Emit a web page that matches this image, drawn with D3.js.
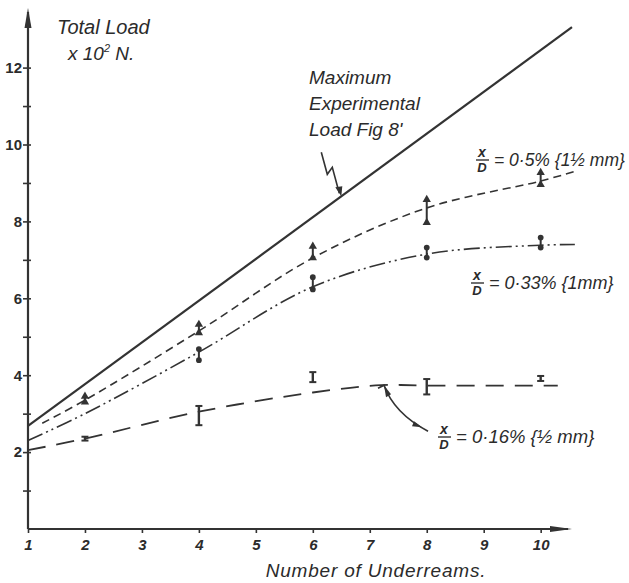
<!DOCTYPE html>
<html>
<head>
<meta charset="utf-8">
<script src="https://cdn.jsdelivr.net/npm/d3@7"></script>
<style>
  html, body { margin: 0; padding: 0; background: #ffffff; }
  svg { display: block; }
  text { font-family: "Liberation Sans", "DejaVu Sans", sans-serif; fill: #2b2b2b; }
</style>
</head>
<body>
<svg id="chart" width="629" height="583"></svg>
<script>
// ---- Data ----
const xTicks = [1, 2, 3, 4, 5, 6, 7, 8, 9, 10];
const yTicks = [1, 2, 3, 4, 5, 6, 7, 8, 9, 10, 11, 12];
const yTickLabels = ["", "2", "", "4", "", "6", "", "8", "", "10", "", "12"];

// Maximum experimental load (straight line)
const maxX = [1, 10.55];
const maxY = [2.68, 13.05];

// x/D = 0.5 %  (triangles)
const s05X = [2, 4, 6, 8, 10];
const s05Low = [3.3, 5.1, 7.05, 7.97, 8.96];
const s05High = [3.45, 5.32, 7.35, 8.57, 9.27];
const s05CurveX = [1.25, 2, 4, 6, 8, 10, 10.6];
const s05CurveY = [2.75, 3.35, 5.15, 7.05, 8.35, 9.05, 9.3];

// x/D = 0.33 %  (circles)
const s033X = [4, 6, 8, 10];
const s033Low = [4.39, 6.23, 7.06, 7.32];
const s033High = [4.68, 6.55, 7.32, 7.58];
const s033CurveX = [1, 2, 4, 6, 8, 10, 10.6];
const s033CurveY = [2.3, 3.0, 4.6, 6.3, 7.15, 7.38, 7.4];

// x/D = 0.16 %  (I bars)
const s016X = [2, 4, 6, 8, 10];
const s016Low = [2.3, 2.7, 3.82, 3.5, 3.85];
const s016High = [2.4, 3.2, 4.08, 3.9, 3.98];
const s016CurveX = [1, 2, 4, 6, 7.2, 8, 10, 10.3];
const s016CurveY = [2.05, 2.35, 3.05, 3.55, 3.74, 3.73, 3.73, 3.73];

// ---- Chart ----
const ink = "#333333";
const svg = d3.select("#chart");
const x = d3.scaleLinear().domain([1, 10.55]).range([28, 572]);
const y = d3.scaleLinear().domain([0, 13.55]).range([529, 8]);

// axes
const xAxis = d3.axisBottom(x).tickValues(xTicks).tickSize(4).tickPadding(6).tickFormat(d3.format("d"));
const gx = svg.append("g").attr("transform", `translate(0,${y(0)})`).call(xAxis);
gx.select(".domain").remove();
gx.selectAll(".tick line").attr("stroke", ink).attr("stroke-width", 1.6);
gx.selectAll(".tick text").attr("font-size", 15).attr("font-style", "italic").attr("font-weight", "bold").attr("fill", "#333");

const yAxis = d3.axisLeft(y).tickValues(yTicks).tickSize(5).tickPadding(3)
  .tickFormat((d, i) => yTickLabels[i]);
const gy = svg.append("g").attr("transform", `translate(${x(1)},0)`).call(yAxis);
gy.select(".domain").remove();
gy.selectAll(".tick line").attr("stroke", ink).attr("stroke-width", 1.6).attr("x2", 3).attr("x1", -5);
gy.selectAll(".tick text").attr("font-size", 15).attr("font-weight", "bold").attr("fill", "#333").attr("x", -6);

// axis lines with arrowheads
svg.append("line").attr("x1", x(1)).attr("x2", x(1)).attr("y1", y(0)).attr("y2", y(13.55) + 4)
  .attr("stroke", ink).attr("stroke-width", 2.2);
svg.append("line").attr("x1", x(1)).attr("x2", x(10.55) - 4).attr("y1", y(0)).attr("y2", y(0))
  .attr("stroke", ink).attr("stroke-width", 2.2);
svg.append("path")
  .attr("d", `M${x(1)},${y(13.55)} L${x(1) - 3.5},${y(13.55) + 20} L${x(1) + 3.5},${y(13.55) + 20} Z`)
  .attr("fill", ink);
svg.append("path")
  .attr("d", `M${x(10.55)},${y(0)} L${x(10.55) - 22},${y(0) - 3} L${x(10.55) - 22},${y(0) + 3} Z`)
  .attr("fill", ink);

// lines
const toPts = (xs, ys) => xs.map((v, i) => [v, ys[i]]);
const lineGen = d3.line().x(d => x(d[0])).y(d => y(d[1])).curve(d3.curveCatmullRom.alpha(0.5));

svg.append("path").attr("d", lineGen(toPts(maxX, maxY)))
  .attr("fill", "none").attr("stroke", ink).attr("stroke-width", 2.2);

svg.append("path").attr("d", lineGen(toPts(s05CurveX, s05CurveY)))
  .attr("fill", "none").attr("stroke", ink).attr("stroke-width", 1.6)
  .attr("stroke-dasharray", "8,5");

svg.append("path").attr("d", lineGen(toPts(s033CurveX, s033CurveY)))
  .attr("fill", "none").attr("stroke", ink).attr("stroke-width", 1.6)
  .attr("stroke-dasharray", "16,4,2,4,2,4");

svg.append("path").attr("d", lineGen(toPts(s016CurveX, s016CurveY)))
  .attr("fill", "none").attr("stroke", ink).attr("stroke-width", 1.8)
  .attr("stroke-dasharray", "18,11");

// markers
const tri = d3.symbol().type(d3.symbolTriangle).size(30);
const circ = d3.symbol().type(d3.symbolCircle).size(26);

function pairs(xs, lo, hi) { return xs.map((v, i) => ({ x: v, lo: lo[i], hi: hi[i] })); }

const g05 = svg.append("g");
pairs(s05X, s05Low, s05High).forEach(d => {
  g05.append("line").attr("x1", x(d.x)).attr("x2", x(d.x)).attr("y1", y(d.lo)).attr("y2", y(d.hi))
    .attr("stroke", ink).attr("stroke-width", 2);
  [d.lo, d.hi].forEach(v => g05.append("path").attr("d", tri())
    .attr("transform", `translate(${x(d.x)},${y(v)})`).attr("fill", ink));
});

const g033 = svg.append("g");
pairs(s033X, s033Low, s033High).forEach(d => {
  g033.append("line").attr("x1", x(d.x)).attr("x2", x(d.x)).attr("y1", y(d.lo)).attr("y2", y(d.hi))
    .attr("stroke", ink).attr("stroke-width", 2);
  [d.lo, d.hi].forEach(v => g033.append("path").attr("d", circ())
    .attr("transform", `translate(${x(d.x)},${y(v)})`).attr("fill", ink));
});

const g016 = svg.append("g");
pairs(s016X, s016Low, s016High).forEach(d => {
  g016.append("line").attr("x1", x(d.x)).attr("x2", x(d.x)).attr("y1", y(d.lo)).attr("y2", y(d.hi))
    .attr("stroke", ink).attr("stroke-width", 2.4);
  [d.lo, d.hi].forEach(v => g016.append("line")
    .attr("x1", x(d.x) - 3.5).attr("x2", x(d.x) + 3.5).attr("y1", y(v)).attr("y2", y(v))
    .attr("stroke", ink).attr("stroke-width", 2));
});

// ---- Text ----
const hand = sel => sel.attr("font-style", "italic").attr("fill", "#2b2b2b");

hand(svg.append("text").attr("x", 57).attr("y", 34).attr("font-size", 20).text("Total Load"));
const unitT = hand(svg.append("text").attr("x", 68).attr("y", 60).attr("font-size", 19));
unitT.append("tspan").text("x 10");
unitT.append("tspan").attr("font-size", 11).attr("dy", -8).text("2");
unitT.append("tspan").attr("dy", 8).text(" N.");

["Maximum", "Experimental", "Load Fig 8'"].forEach((t, i) =>
  hand(svg.append("text").attr("x", 309).attr("y", 84 + i * 26).attr("font-size", 19).text(t)));

hand(svg.append("text").attr("x", 376).attr("y", 577).attr("font-size", 19)
  .attr("text-anchor", "middle").attr("letter-spacing", 0.8).text("Number of Underreams."));

// lightning arrow pointing to the maximum line
const tipX = 6.5;
const tipY = maxY[0] + (maxY[1] - maxY[0]) * (tipX - maxX[0]) / (maxX[1] - maxX[0]);
const tx = x(tipX), ty = y(tipY);
svg.append("path")
  .attr("d", `M${tx - 20},${ty - 44} L${tx - 14},${ty - 22} L${tx - 9},${ty - 29} L${tx - 2},${ty - 3}`)
  .attr("fill", "none").attr("stroke", ink).attr("stroke-width", 1.6);
svg.append("path")
  .attr("d", `M${tx},${ty} L${tx - 6},${ty - 9} L${tx + 1},${ty - 10} Z`).attr("fill", ink);

// fraction labels
function fracLabel(px, py, rest, fs) {
  const g = svg.append("g");
  hand(g.append("text").attr("x", px + 6).attr("y", py - 3).attr("font-size", 14)
    .attr("text-anchor", "middle").attr("font-weight", "bold").text("x"));
  g.append("line").attr("x1", px).attr("x2", px + 13).attr("y1", py).attr("y2", py)
    .attr("stroke", ink).attr("stroke-width", 1.4);
  hand(g.append("text").attr("x", px + 6).attr("y", py + 12).attr("font-size", 13)
    .attr("text-anchor", "middle").attr("font-weight", "bold").text("D"));
  hand(g.append("text").attr("x", px + 18).attr("y", py + 6).attr("font-size", fs).text(rest));
}
fracLabel(476, 160, "= 0·5% {1½ mm}", 17.5);
fracLabel(471, 283, "= 0·33% {1mm}", 18);
fracLabel(438, 437, "= 0·16% {½ mm}", 18.5);

// curved arrow for 0.16 % label
const ax = x(7.25), ay = y(3.74);
svg.append("path")
  .attr("d", `M${ax - 6},${ay + 3} L${ax},${ay} Q${ax + 10},${ay + 28} ${ax + 44},${ay + 46}`)
  .attr("fill", "none").attr("stroke", ink).attr("stroke-width", 1.6);
svg.append("path")
  .attr("d", `M${ax},${ay} L${ax + 2},${ay + 12} L${ax + 7},${ay + 9} Z`).attr("fill", ink);
svg.append("path")
  .attr("d", `M${ax + 30},${ay + 36} l8,6 l-10,-1 Z`).attr("fill", ink);
</script>
</body>
</html>
